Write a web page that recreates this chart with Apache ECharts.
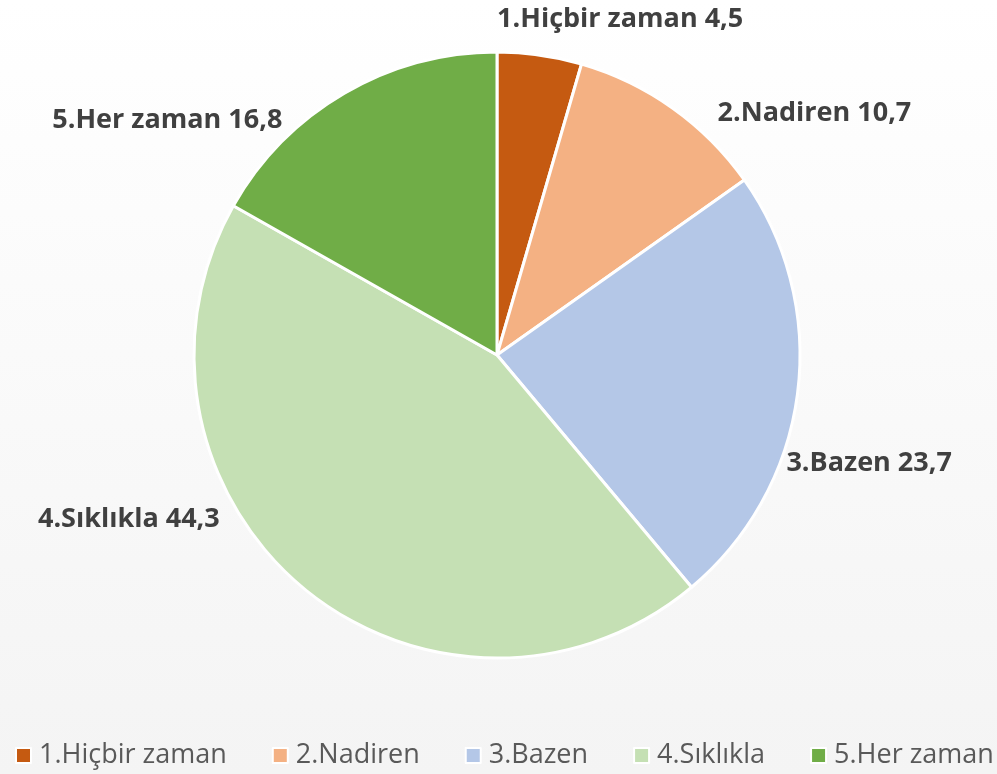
<!DOCTYPE html>
<html lang="tr">
<head>
	<meta charset="UTF-8">
	<title>Pie</title>
	<style type="text/css">
		html,body{
			padding: 0;
			margin: 0;
		}
		#main,html,body{
			width: 100%;
			height: 100%;
			overflow: hidden;
		}
	</style>
</head>
<body>
	<div id="main"></div>
</body>
<script type="text/javascript" src="https://cdn.jsdelivr.net/npm/echarts@6/dist/echarts.min.js"></script>
<script type="text/javascript">
	var categories = ['1.Hiçbir zaman', '2.Nadiren', '3.Bazen', '4.Sıklıkla', '5.Her zaman'];
	var values = [4.5, 10.7, 23.7, 44.3, 16.8];
	var colors = ['#c55a11', '#f4b183', '#b4c7e7', '#c5e0b4', '#70ad47'];
	// nudges so labels sit like the original "best fit" placement
	var labelShift = [[-49, -26], [34, 13], [-26, 68], [-72, -76], [-52, 36]];

	var data = [];
	for (var i = 0; i < categories.length; i++) {
		data.push({ name: categories[i], value: values[i], itemStyle: { color: colors[i] } });
	}

	var myChart = echarts.init(document.getElementById('main'));
	myChart.setOption({
		backgroundColor: new echarts.graphic.LinearGradient(0, 0, 0, 1, [
			{ offset: 0, color: '#ffffff' },
			{ offset: 1, color: '#f4f4f4' }
		]),
		animation: false,
		legend: {
			bottom: 0,
			left: 10,
			width: 1100,
			padding: [5, 0, 5, 5],
			itemWidth: 15,
			itemHeight: 15,
			itemGap: 45,
			icon: 'rect',
			textStyle: {
				fontFamily: 'Open Sans',
				fontSize: 27,
				color: '#595959',
				padding: [0, 0, 0, 3]
			},
			data: categories
		},
		series: [{
			type: 'pie',
			center: [497, 355],
			radius: 303,
			startAngle: 90,
			clockwise: true,
			itemStyle: {
				borderColor: '#ffffff',
				borderWidth: 3
			},
			label: {
				show: true,
				position: 'outside',
				fontFamily: 'Open Sans',
				fontWeight: 'bold',
				fontSize: 27,
				color: '#404040',
				formatter: function (p) {
					return p.name + ' ' + String(p.value).replace('.', ',');
				}
			},
			labelLine: { show: false, length: 10, length2: 0 },
			labelLayout: function (params) {
				var s = labelShift[params.dataIndex];
				return { dx: s[0], dy: s[1] };
			},
			data: data
		}]
	});
</script>
</html>
